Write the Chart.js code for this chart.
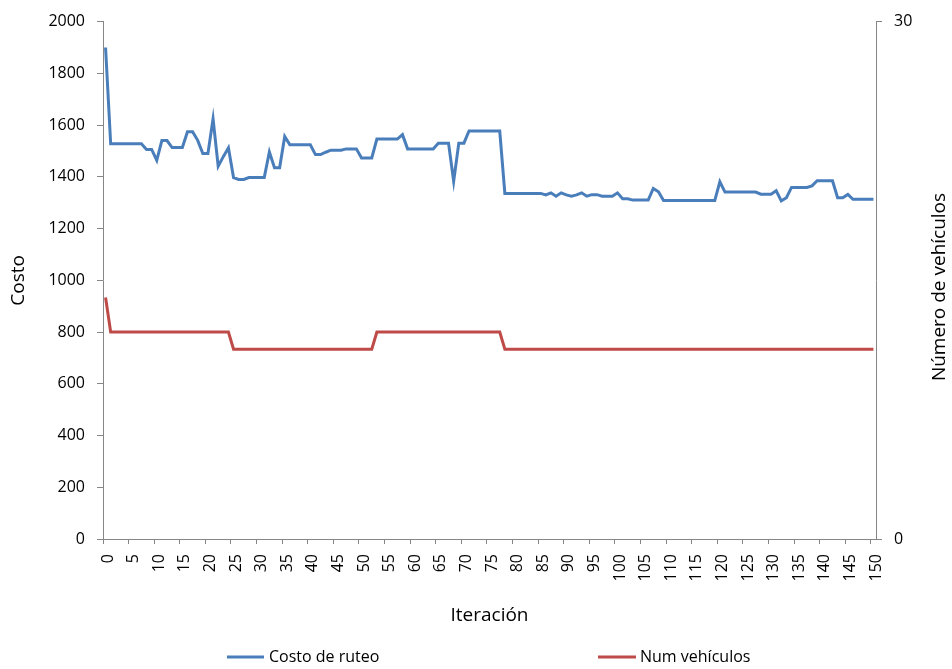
<!DOCTYPE html>
<html>
<head>
<meta charset="utf-8">
<script src="https://cdn.jsdelivr.net/npm/chart.js@4.4.0/dist/chart.umd.min.js"></script>
<style>
  html, body { margin: 0; padding: 0; background: #fff; }
  #wrap { width: 952px; height: 669px; position: relative; }
</style>
</head>
<body>
<div id="wrap"><canvas id="chart"></canvas></div>
<script>
// iterations 0..150
const iteraciones = Array.from({ length: 151 }, (_, i) => String(i));

// costo de ruteo, one value per iteration
const costoRuteo = [
  1900, 1528, 1528, 1528, 1528, 1528, 1528, 1528, 1506, 1506,
  1464, 1540, 1540, 1513, 1513, 1513, 1574, 1574, 1541, 1490,
  1490, 1624, 1441, 1478, 1512, 1397, 1390, 1390, 1397, 1397,
  1397, 1397, 1496, 1435, 1435, 1556, 1524, 1524, 1524, 1524,
  1524, 1486, 1486, 1495, 1503, 1503, 1503, 1508, 1508, 1508,
  1473, 1473, 1473, 1546, 1546, 1546, 1546, 1546, 1563, 1508,
  1508, 1508, 1508, 1508, 1508, 1530, 1530, 1530, 1383, 1530,
  1530, 1577, 1577, 1577, 1577, 1577, 1577, 1577, 1336, 1336,
  1336, 1336, 1336, 1336, 1336, 1336, 1330, 1338, 1325, 1338,
  1330, 1325, 1330, 1338, 1325, 1331, 1331, 1325, 1325, 1325,
  1338, 1315, 1315, 1310, 1310, 1310, 1310, 1355, 1342, 1308,
  1308, 1308, 1308, 1308, 1308, 1308, 1308, 1308, 1308, 1308,
  1381, 1341, 1341, 1341, 1341, 1341, 1341, 1341, 1333, 1333,
  1333, 1346, 1307, 1319, 1359, 1359, 1359, 1359, 1365, 1385,
  1385, 1385, 1385, 1319, 1319, 1332, 1313, 1313, 1313, 1313,
  1313
];

// numero de vehiculos (right axis)
const numVehiculos = [
  14, 12, 12, 12, 12, 12, 12, 12, 12, 12,
  12, 12, 12, 12, 12, 12, 12, 12, 12, 12,
  12, 12, 12, 12, 12, 11, 11, 11, 11, 11,
  11, 11, 11, 11, 11, 11, 11, 11, 11, 11,
  11, 11, 11, 11, 11, 11, 11, 11, 11, 11,
  11, 11, 11, 12, 12, 12, 12, 12, 12, 12,
  12, 12, 12, 12, 12, 12, 12, 12, 12, 12,
  12, 12, 12, 12, 12, 12, 12, 12, 11, 11,
  11, 11, 11, 11, 11, 11, 11, 11, 11, 11,
  11, 11, 11, 11, 11, 11, 11, 11, 11, 11,
  11, 11, 11, 11, 11, 11, 11, 11, 11, 11,
  11, 11, 11, 11, 11, 11, 11, 11, 11, 11,
  11, 11, 11, 11, 11, 11, 11, 11, 11, 11,
  11, 11, 11, 11, 11, 11, 11, 11, 11, 11,
  11, 11, 11, 11, 11, 11, 11, 11, 11, 11,
  11
];

const seriesNames = ['Costo de ruteo', 'Num vehículos'];
const seriesColors = ['#4a7ebb', '#be4b48'];
const xLabelStep = 5;

const FONT = '"Open Sans", Lato, sans-serif';
const AXIS = '#868686';

// right title + legend, drawn by hand so they sit where the original has them
const extras = {
  id: 'extras',
  afterDraw(chart) {
    const ctx = chart.ctx;
    ctx.save();
    ctx.fillStyle = '#000';
    ctx.font = '19px ' + FONT;
    ctx.textAlign = 'center';
    ctx.textBaseline = 'middle';
    ctx.translate(940, 287);
    ctx.rotate(-Math.PI / 2);
    ctx.fillText('Número de vehículos', 0, 0);
    ctx.restore();

    const items = [[227, 264, 269], [598, 636, 640]];
    ctx.save();
    ctx.font = '16px ' + FONT;
    ctx.textBaseline = 'middle';
    ctx.lineWidth = 3;
    items.forEach((it, i) => {
      ctx.strokeStyle = seriesColors[i];
      ctx.beginPath();
      ctx.moveTo(it[0], 657);
      ctx.lineTo(it[1], 657);
      ctx.stroke();
      ctx.fillStyle = '#000';
      ctx.fillText(seriesNames[i], it[2], 657);
    });
    ctx.restore();
  }
};

new Chart(document.getElementById('chart'), {
  type: 'line',
  data: {
    labels: iteraciones,
    datasets: [
      {
        label: seriesNames[0],
        data: costoRuteo,
        borderColor: seriesColors[0],
        borderWidth: 3,
        pointRadius: 0,
        tension: 0,
        yAxisID: 'y'
      },
      {
        label: seriesNames[1],
        data: numVehiculos,
        borderColor: seriesColors[1],
        borderWidth: 3,
        pointRadius: 0,
        tension: 0,
        yAxisID: 'y2'
      }
    ]
  },
  plugins: [extras],
  options: {
    responsive: true,
    maintainAspectRatio: false,
    animation: false,
    layout: { padding: { top: 17, bottom: 30, left: 0, right: 0 } },
    plugins: {
      legend: { display: false },
      tooltip: { enabled: false }
    },
    scales: {
      x: {
        type: 'category',
        offset: true,
        grid: {
          offset: true,
          drawOnChartArea: false,
          tickLength: 5,
          tickColor: (c) => (c.index % xLabelStep === 0 ? AXIS : 'rgba(0,0,0,0)')
        },
        border: { color: AXIS, width: 1 },
        ticks: {
          autoSkip: false,
          minRotation: 90,
          maxRotation: 90,
          padding: 10,
          labelOffset: 2.5,
          color: '#000',
          font: { family: FONT, size: 16 },
          callback: (v, i) => (i % xLabelStep === 0 ? iteraciones[i] : '')
        },
        title: {
          display: true,
          text: 'Iteración',
          color: '#000',
          font: { family: FONT, size: 19 },
          padding: { top: 0, bottom: 12.5 }
        },
        afterFit: (s) => { s.height = 100; }
      },
      y: {
        position: 'left',
        min: 0,
        max: 2000,
        ticks: {
          stepSize: 200,
          padding: 12,
          color: '#000',
          font: { family: FONT, size: 16 },
          callback: (v) => String(v)
        },
        grid: { drawOnChartArea: false, tickLength: 6, color: AXIS },
        border: { color: AXIS, width: 1 },
        title: {
          display: true,
          text: 'Costo',
          color: '#000',
          font: { family: FONT, size: 19 },
          padding: { top: 7, bottom: 0 }
        },
        afterFit: (s) => { s.width = 103; }
      },
      y2: {
        position: 'right',
        min: 0,
        max: 30,
        ticks: {
          stepSize: 30,
          padding: 12,
          color: '#000',
          font: { family: FONT, size: 16 },
          callback: (v) => String(v)
        },
        grid: { drawOnChartArea: false, tickLength: 6, color: AXIS },
        border: { color: AXIS, width: 1 },
        afterFit: (s) => { s.width = 76; }
      }
    }
  }
});
</script>
</body>
</html>
